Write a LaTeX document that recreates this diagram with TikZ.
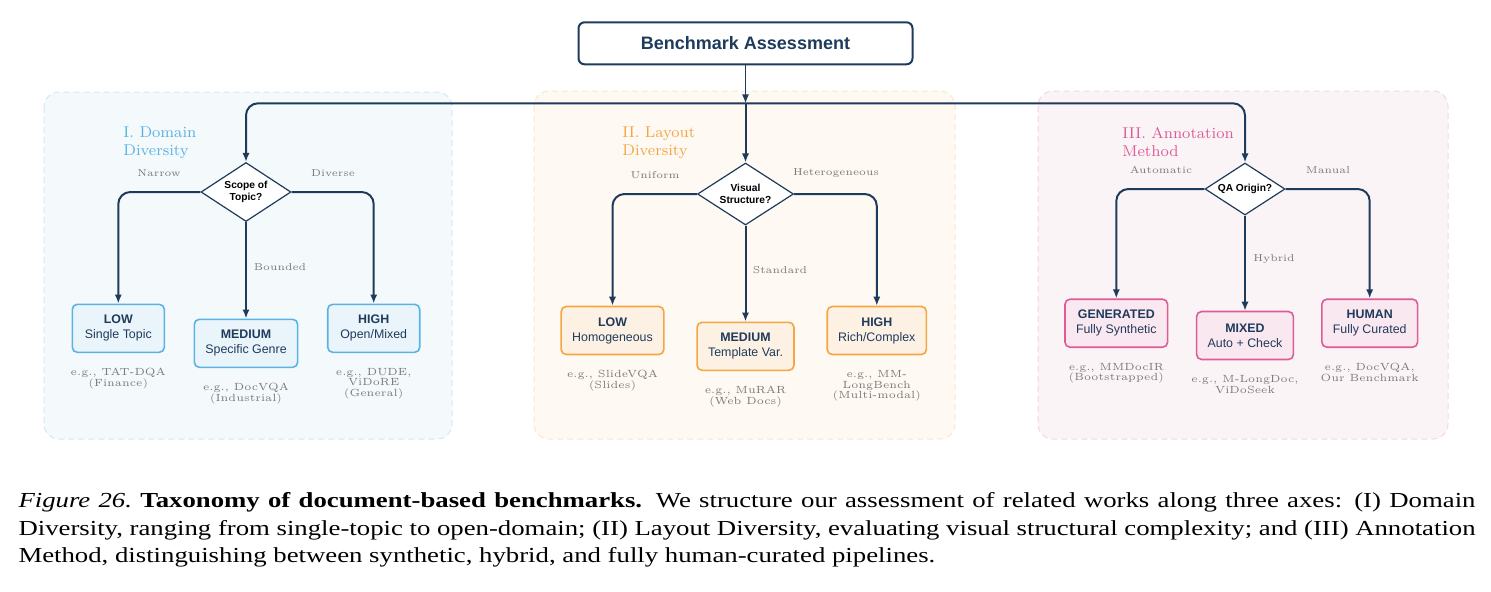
\documentclass[tikz,border=0pt]{standalone}
\usepackage{fontspec}
\newfontfamily\sansfont{Liberation Sans}
\newfontfamily\capfont{Liberation Serif}
\usetikzlibrary{shapes.geometric,arrows.meta}

\definecolor{deepnavy}{HTML}{1F3B5C}
\definecolor{labelgray}{HTML}{7A7A7A}
\definecolor{domedge}{HTML}{D3E7F4}
\definecolor{domfill}{HTML}{F4F9FC}
\definecolor{domline}{HTML}{5BB3E4}
\definecolor{domleaf}{HTML}{EAF4FB}
\definecolor{layedge}{HTML}{FBE6CC}
\definecolor{layfill}{HTML}{FEF9F2}
\definecolor{layline}{HTML}{F6A543}
\definecolor{layleaf}{HTML}{FDF1E3}
\definecolor{annedge}{HTML}{F3D6E2}
\definecolor{annfill}{HTML}{FBF4F7}
\definecolor{annline}{HTML}{DC5C97}
\definecolor{annleaf}{HTML}{FAE8F0}

\tikzstyle{panel} = [rounded corners=7.5pt, line width=0.5pt, dash pattern=on 3pt off 2pt]
\tikzstyle{headbox} = [draw=deepnavy, line width=1pt, rounded corners=3pt, fill=white, minimum width=167pt, minimum height=21pt, text=deepnavy, font=\sansfont\bfseries\fontsize{9}{10}\selectfont]
\tikzstyle{decision} = [diamond, aspect=1.5, draw=deepnavy, line width=0.6pt, fill=white, inner sep=0pt, align=center, font=\sansfont\bfseries\fontsize{5.1}{6}\selectfont]
\tikzstyle{leaf} = [rectangle, rounded corners=2.5pt, line width=0.8pt, align=center, inner xsep=5.5pt, minimum width=46pt, minimum height=24pt, text=deepnavy, font=\sansfont\fontsize{6.2}{7.5}\selectfont]
\tikzstyle{axis title} = [anchor=north west, inner sep=0pt, align=left, font=\fontsize{7.8}{9}\selectfont]
\tikzstyle{choice} = [inner sep=0pt, text=labelgray, font=\fontsize{5}{6}\selectfont]
\tikzstyle{example} = [inner sep=0pt, align=center, text=labelgray, font=\fontsize{5.2}{5.4}\selectfont]
\tikzstyle{flow} = [draw=deepnavy, line width=1pt, rounded corners=6pt, -{Latex[length=4.5pt,width=3.6pt]}]
\tikzstyle{caption} = [anchor=north west, inner sep=0pt, xscale=1.25, transform shape, text width=582.8pt, align=justify, font=\capfont\fontsize{10.7}{13.75}\selectfont]

\begin{document}
\begin{tikzpicture}[x=0.5pt, y=-0.5pt]
  \useasboundingbox (0,0) rectangle (1491,591);

  % The three axes in the background
  \foreach \from/\to/\fillc/\edgec in {{(44,92)/(452,439)/domfill/domedge}, {(534,91)/(955,439)/layfill/layedge}, {(1038,91)/(1448,439)/annfill/annedge}}
    \path[panel, fill=\fillc, draw=\edgec] \from rectangle \to;

  \node[axis title, text=domline] (title1) at (123,126) {I. Domain\\Diversity};
  \node[axis title, text=layline] (title2) at (622,126) {II. Layout\\Diversity};
  \node[axis title, text=annline] (title3) at (1122,127) {III. Annotation\\Method};

  % Root and the three questions
  \node[headbox] (bench) at (745.5,43.3) {Benchmark Assessment};
  \coordinate (hub) at (745.5,103.3);

  \node[decision, minimum width=45pt, minimum height=29.5pt] (d1) at (246,192) {Scope of\\Topic?};
  \node[decision, minimum width=48pt, minimum height=31pt] (d2) at (745.5,194) {Visual\\Structure?};
  \node[decision, minimum width=40pt, minimum height=26pt] (d3) at (1245,189) {QA Origin?};

  % The leaves of each axis
  \foreach \pos/\name/\head/\body in {{(118.3,328.3)/low1/LOW/Single Topic}, {(246,343.3)/med1/MEDIUM/Specific Genre}, {(373.7,328.3)/high1/HIGH/{Open/Mixed}}}
    \node[leaf, draw=domline, fill=domleaf] (\name) at \pos {\textbf{\head}\\\body};
  \foreach \pos/\name/\head/\body in {{(612.5,330.5)/low2/LOW/Homogeneous}, {(745.5,346.3)/med2/MEDIUM/Template Var.}, {(876.8,330.5)/high2/HIGH/{Rich/Complex}}}
    \node[leaf, draw=layline, fill=layleaf] (\name) at \pos {\textbf{\head}\\\body};
  \foreach \pos/\name/\head/\body in {{(1116.3,323.2)/gen/GENERATED/Fully Synthetic}, {(1245,335.5)/mix/MIXED/Auto + Check}, {(1369.7,323.2)/hum/HUMAN/Fully Curated}}
    \node[leaf, draw=annline, fill=annleaf] (\name) at \pos {\textbf{\head}\\\body};

  % Choices on the branches
  \foreach \pos/\name/\txt in {{(159,173)/c-narrow/Narrow}, {(333,173)/c-diverse/Diverse}, {(280,267)/c-bounded/Bounded},
      {(655,175)/c-uniform/Uniform}, {(836,173)/c-hetero/Heterogeneous}, {(780,270)/c-standard/Standard},
      {(1161,170)/c-auto/Automatic}, {(1328,170)/c-manual/Manual}, {(1274,259)/c-hybrid/Hybrid}}
    \node[choice] (\name) at \pos {\txt};

  % Benchmarks under each leaf
  \foreach \pos/\name/\txt in {{(118.3,378.7)/ex-low1/{e.g., TAT-DQA\\(Finance)}}, {(246,393.7)/ex-med1/{e.g., DocVQA\\(Industrial)}}, {(373.7,383.7)/ex-high1/{e.g., DUDE,\\ViDoRE\\(General)}},
      {(612.5,380.3)/ex-low2/{e.g., SlideVQA\\(Slides)}}, {(745.5,396.3)/ex-med2/{e.g., MuRAR\\(Web Docs)}}, {(876.8,385.8)/ex-high2/{e.g., MM-\\LongBench\\(Multi-modal)}},
      {(1116.3,373.2)/ex-gen/{e.g., MMDocIR\\(Bootstrapped)}}, {(1245,384.5)/ex-mix/{e.g., M-LongDoc,\\ViDoSeek}}, {(1369.7,372.5)/ex-hum/{e.g., DocVQA,\\Our Benchmark}}}
    \node[example] (\name) at \pos {\txt};

  % The connections
  \draw[flow, line width=0.8pt] (bench) -- (hub);
  \draw[flow] (hub) -| (d1.north);
  \draw[flow] (hub) -| (d3.north);
  \draw[flow] (hub) -- (d2.north);

  \foreach \src/\side/\dst in {d1/west/low1, d1/east/high1, d2/west/low2, d2/east/high2, d3/west/gen, d3/east/hum}
    \draw[flow] (\src.\side) -| (\dst.north);
  \foreach \src/\dst in {d1/med1, d2/med2, d3/mix}
    \draw[flow] (\src.south) -- (\dst.north);

  \node[caption] (cap) at (18,492.5) {\textit{Figure 26.}\ \textbf{Taxonomy of document-based benchmarks.} We structure our assessment of related works along three axes: (I) Domain\linebreak Diversity, ranging from single-topic to open-domain; (II) Layout Diversity, evaluating visual structural complexity; and (III) Annotation\linebreak Method, distinguishing between synthetic, hybrid, and fully human-curated pipelines.};
\end{tikzpicture}
\end{document}
